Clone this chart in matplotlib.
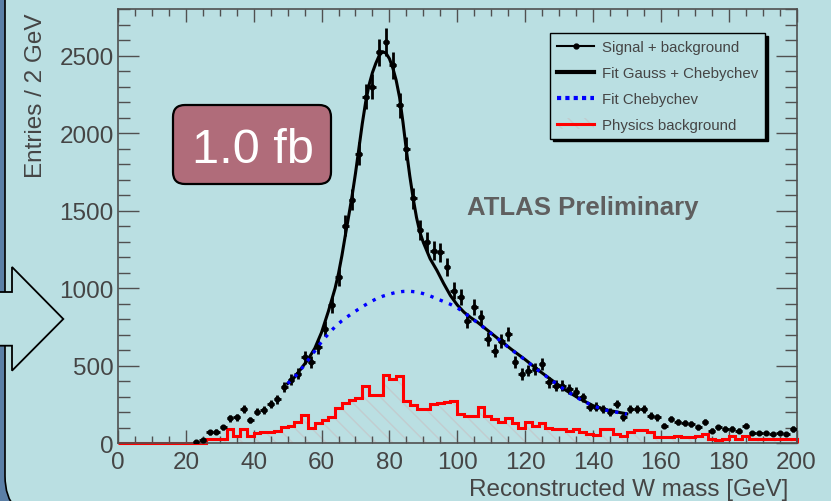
import numpy as np
import matplotlib
matplotlib.use("Agg")
import matplotlib.pyplot as plt
from matplotlib.lines import Line2D
from matplotlib.patches import Patch, Polygon, FancyBboxPatch
from matplotlib.ticker import MultipleLocator

plt.rcParams["font.family"] = ["Liberation Sans", "DejaVu Sans"]

W, H = 831, 502
slide_bg = "#badfe2"
slide_edge = "#5b7fa6"
text_grey = "#454545"

# 2 GeV bins from 0 to 200 GeV
bin_edges = np.arange(0, 202, 2)

# reconstructed W candidates (signal + background), bin centres
data_mass = np.arange(23, 201, 2)
data_entries = np.array([
    11, 20, 71, 75, 103, 162, 168, 221, 150, 205,
    215, 252, 283, 365, 410, 450, 555, 523, 620, 740,
    890, 1071, 1404, 1570, 1866, 2235, 2300, 2522, 2587, 2436,
    2178, 1899, 1580, 1378, 1297, 1243, 1232, 1135, 985, 942,
    791, 877, 813, 673, 598, 662, 705, 522, 447, 469,
    479, 512, 394, 372, 372, 350, 329, 297, 232, 237,
    221, 200, 254, 168, 221, 221, 221, 178, 168, 114,
    157, 135, 131, 125, 103, 135, 81, 103, 92, 92,
    81, 114, 66, 66, 66, 60, 66, 60, 92])
event_weight = 3.0

# physics background, one value per 2 GeV bin
phys_bkg = np.array(
    [0] * 13 +
    [30, 30, 30,
     92, 45, 92, 45,
     68, 70, 72, 78, 108,
     112, 135, 183, 97, 128,
     150, 172, 225, 262, 281,
     290, 368, 311, 311, 440,
     412, 436, 275, 245, 221,
     221, 254, 260, 264, 275,
     190, 175, 178, 232, 178,
     155, 140, 165, 130, 97,
     135, 110, 128, 100, 92,
     92, 80, 92, 72, 62,
     55, 92, 92, 58, 50,
     70, 88, 88, 70, 40,
     38, 40, 48, 40, 40,
     45, 58, 28, 22, 25,
     48, 28, 48, 28, 30,
     28, 30, 28, 30, 30])

# Gauss + Chebychev fit, total
fit_mass = [50, 52, 54, 56, 58, 60, 62, 64, 65, 66, 67, 68, 69, 70, 71, 72, 73, 74,
            75, 76, 77, 78, 79, 80, 81, 82, 83, 84, 85, 86, 87, 88, 89, 90, 92, 94,
            96, 98, 100, 102, 104, 106, 108, 112, 116, 120, 124, 128, 132, 136, 140,
            144, 148, 150]
fit_total = [385, 425, 482, 540, 612, 715, 850, 1000, 1095, 1210, 1340, 1465, 1595,
             1740, 1900, 2060, 2200, 2310, 2390, 2450, 2500, 2525, 2515, 2480, 2420,
             2340, 2230, 2070, 1890, 1725, 1580, 1455, 1360, 1295, 1190, 1115, 1030,
             952, 892, 845, 810, 780, 745, 675, 605, 540, 470, 405, 342, 288, 243,
             215, 198, 190]

# Chebychev part of the fit
cheb_mass = [50, 52, 54, 56, 58, 60, 62, 64, 66, 68, 70, 72, 74, 76, 78, 80, 82, 84,
             86, 88, 90, 92, 94, 96, 98, 100, 102, 104, 106, 108, 112, 116, 120, 124,
             128, 132, 136, 140, 144, 148, 150]
cheb_fit = [385, 425, 478, 535, 595, 655, 705, 752, 790, 822, 852, 880, 907, 930, 948,
            962, 973, 979, 980, 976, 965, 950, 932, 914, 896, 874, 843, 808, 778, 743,
            673, 603, 538, 468, 403, 340, 286, 241, 213, 196, 188]

legend_labels = ["Signal + background", "Fit Gauss + Chebychev",
                 "Fit Chebychev", "Physics background"]


def inch(x, y):
    # pixel position (from top-left) -> inches from bottom-left
    return x / 100.0, (H - y) / 100.0


fig = plt.figure(figsize=(W / 100, H / 100), dpi=100, facecolor=slide_edge)

# slide panel with rounded lower-left corner
panel = FancyBboxPatch(inch(5, 520), 9.0, 6.0, boxstyle="round,pad=0,rounding_size=0.43",
                       fc=slide_bg, ec="black", lw=1.2, transform=fig.dpi_scale_trans,
                       zorder=-2)
fig.add_artist(panel)

# arrow pointing at the plot
arrow_pts = [inch(-2, 293), inch(12, 293), inch(12, 268), inch(63.3, 320),
             inch(12, 371.7), inch(12, 346.7), inch(-2, 346.7)]
fig.add_artist(Polygon(arrow_pts, closed=True, fc=slide_bg, ec="black", lw=1.3,
                       transform=fig.dpi_scale_trans, zorder=-1))

ax = fig.add_axes([118 / W, (H - 444.3) / H, 678.5 / W, 434.3 / H])
ax.set_facecolor("none")

# hatched physics background with red outline
ax.stairs(phys_bkg, bin_edges, fill=True, facecolor="none", edgecolor="#c2cccf",
          hatch="\\\\", lw=0, zorder=1)
ax.stairs(phys_bkg, bin_edges, color="red", lw=2.2, zorder=2, clip_on=False)

ax.errorbar(data_mass, data_entries, xerr=1.0, yerr=np.sqrt(event_weight * data_entries),
            fmt="o", ms=3.4, color="black", ecolor="black", elinewidth=2.0, capsize=0,
            zorder=3)

ax.plot(fit_mass, fit_total, color="black", lw=2.2, zorder=4)
ax.plot(cheb_mass, cheb_fit, color="blue", lw=2.4, ls=(0, (1.0, 2.0)), zorder=5)

ax.set_xlim(0, 200)
ax.set_ylim(0, 2800)
ax.xaxis.set_major_locator(MultipleLocator(20))
ax.xaxis.set_minor_locator(MultipleLocator(5))
ax.yaxis.set_major_locator(MultipleLocator(500))
ax.yaxis.set_minor_locator(MultipleLocator(100))

ax.tick_params(which="both", direction="in", top=True, right=True, color="#505050",
               labelcolor=text_grey, labelsize=17.5, width=1.0)
ax.tick_params(axis="x", which="major", length=9.5, pad=5.5)
ax.tick_params(axis="x", which="minor", length=4.7)
ax.tick_params(axis="y", which="major", length=15, pad=3)
ax.tick_params(axis="y", which="minor", length=8.5)
for sp in ax.spines.values():
    sp.set_color("#505050")
    sp.set_linewidth(1.2)

ax.set_xlabel("Reconstructed W mass [GeV]", loc="right", fontsize=17.5, color=text_grey)
ax.xaxis.set_label_coords(670 / 678.5, -0.080)
ax.set_ylabel("Entries / 2 GeV", loc="top", fontsize=17.5, color=text_grey)
ax.yaxis.set_label_coords(-0.105, 0.993)

ax.text(0.514, 0.528, "ATLAS Preliminary", transform=ax.transAxes, fontsize=18.5,
        fontweight="bold", color="#5f5f5f", ha="left", va="baseline")

handles = [
    Line2D([], [], color="black", lw=1.5, marker="o", ms=3.5),
    Line2D([], [], color="black", lw=3),
    Line2D([], [], color="blue", lw=3, ls=(0, (1, 1))),
    (Patch(facecolor="none", edgecolor="#c2cccf", hatch="\\\\", lw=0),
     Line2D([], [], color="red", lw=2.2)),
]
leg = ax.legend(handles, legend_labels, loc="upper left",
                bbox_to_anchor=(550 / W, 1 - 34 / H), bbox_transform=fig.transFigure,
                fontsize=10.8, labelcolor=text_grey, frameon=True, fancybox=False,
                shadow={"color": "black", "alpha": 1}, facecolor=slide_bg,
                edgecolor="black", framealpha=1, borderaxespad=0, borderpad=0.45,
                handlelength=2.5, handletextpad=0.5, labelspacing=0.8)
leg.get_frame().set_linewidth(1.0)
leg.set_zorder(6)

# luminosity box
lumi_box = FancyBboxPatch(inch(173, 185), 1.58, 0.79, boxstyle="round,pad=0,rounding_size=0.12",
                          fc="#b06c7a", ec="black", lw=1.6, transform=fig.dpi_scale_trans,
                          zorder=7)
fig.add_artist(lumi_box)
fig.text(253 / W, 1 - 163 / H, "1.0 fb", color="white", fontsize=35, ha="center",
         va="baseline", zorder=8)

fig.savefig("out.png", dpi=100, facecolor=fig.get_facecolor())
